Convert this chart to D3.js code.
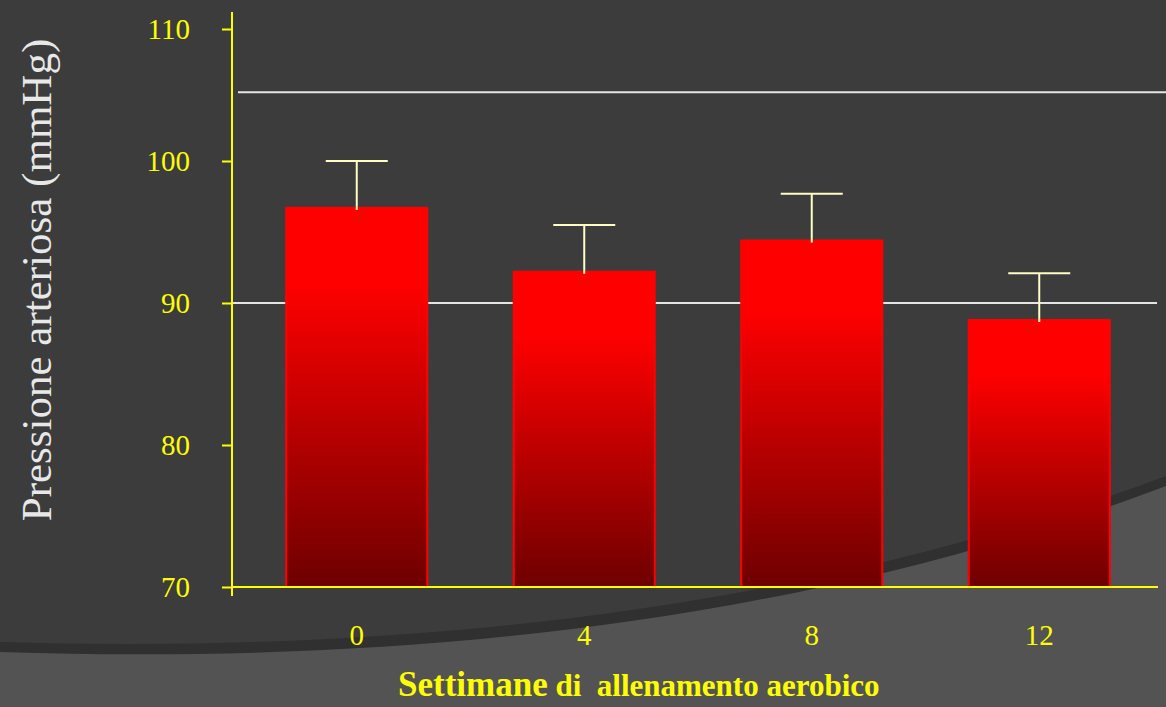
<!DOCTYPE html>
<html>
<head>
<meta charset="utf-8">
<script src="https://cdn.jsdelivr.net/npm/d3@7"></script>
<style>
  html, body { margin: 0; padding: 0; background: #3c3c3c; }
  svg { display: block; }
</style>
</head>
<body>
<div id="chart"></div>
<script>
// data
var weeks = ['0', '4', '8', '12'];
var pressure = [96.7, 92.2, 94.4, 88.8];
var pressureErr = [3.3, 3.3, 3.3, 3.3];
var yTicks = [70, 80, 90, 100, 110];
var refLines = [90, 105.2];

var W = 1166, H = 707;

var svg = d3.select('#chart').append('svg')
    .attr('width', W)
    .attr('height', H);

// background + swoosh (decoration of the slide)
svg.append('rect').attr('width', W).attr('height', H).attr('fill', '#3c3c3c');
svg.append('path')
    .attr('d', 'M0,642 C400,654 800,613 1166,476 L1166,707 L0,707 Z')
    .attr('fill', '#303030');
svg.append('path')
    .attr('d', 'M0,652 C400,665 800,625 1166,486 L1166,707 L0,707 Z')
    .attr('fill', '#535353');

var defs = svg.append('defs');
var grad = defs.append('linearGradient')
    .attr('id', 'barGrad')
    .attr('x1', 0).attr('y1', 0).attr('x2', 0).attr('y2', 1);
grad.append('stop').attr('offset', '0%').attr('stop-color', '#ff0000');
grad.append('stop').attr('offset', '20%').attr('stop-color', '#ff0000');
grad.append('stop').attr('offset', '100%').attr('stop-color', '#6e0000');

// scales (the top segment of the original axis is compressed)
var x = d3.scaleBand()
    .domain(weeks)
    .range([243, 1153])
    .paddingInner(0.38)
    .paddingOuter(0.19);

var y = d3.scaleLinear()
    .domain([70, 100, 110])
    .range([587, 161, 29]);

var axisX = 232;
var serif = '"Liberation Serif", "Times New Roman", serif';

// white reference lines
svg.selectAll('line.ref').data(refLines).enter().append('line')
    .attr('class', 'ref')
    .attr('x1', function(d, i){ return i == 0 ? axisX : axisX + 6; })
    .attr('x2', function(d, i){ return i == 0 ? 1157 : W; })
    .attr('y1', function(d){ return y(d); })
    .attr('y2', function(d){ return y(d); })
    .attr('stroke', '#e4e4e4')
    .attr('stroke-width', 2);

// bars
svg.selectAll('rect.bar').data(pressure).enter().append('rect')
    .attr('class', 'bar')
    .attr('x', function(d, i){ return x(weeks[i]); })
    .attr('y', function(d){ return y(d); })
    .attr('width', x.bandwidth())
    .attr('height', function(d){ return y(70) - y(d); })
    .attr('fill', 'url(#barGrad)')
    .attr('stroke', '#ff0000')
    .attr('stroke-width', 2);

// error bars
var err = svg.selectAll('g.err').data(pressure).enter().append('g')
    .attr('class', 'err')
    .attr('stroke', '#ffffc4')
    .attr('stroke-width', 2);
err.append('line')
    .attr('x1', function(d, i){ return x(weeks[i]) + x.bandwidth() / 2; })
    .attr('x2', function(d, i){ return x(weeks[i]) + x.bandwidth() / 2; })
    .attr('y1', function(d){ return y(d) + 2; })
    .attr('y2', function(d, i){ return y(d + pressureErr[i]); });
err.append('line')
    .attr('x1', function(d, i){ return x(weeks[i]) + x.bandwidth() / 2 - 31; })
    .attr('x2', function(d, i){ return x(weeks[i]) + x.bandwidth() / 2 + 31; })
    .attr('y1', function(d, i){ return y(d + pressureErr[i]); })
    .attr('y2', function(d, i){ return y(d + pressureErr[i]); });

// y axis
var gy = svg.append('g')
    .attr('transform', 'translate(' + axisX + ',0)')
    .call(d3.axisLeft(y).tickValues(yTicks).tickSize(10).tickPadding(32).tickSizeOuter(0));
gy.attr('font-family', serif).attr('font-size', 29);
gy.select('.domain').remove();
gy.selectAll('line').attr('stroke', '#ffff00').attr('stroke-width', 2);
gy.selectAll('text').attr('fill', '#ffff00');
gy.append('line')
    .attr('y1', y(110) - 17).attr('y2', y(70) + 9)
    .attr('stroke', '#ffff00').attr('stroke-width', 2);

// x axis
var gx = svg.append('g')
    .attr('transform', 'translate(0,' + y(70) + ')')
    .call(d3.axisBottom(x).tickSize(0).tickPadding(37));
gx.attr('font-family', serif).attr('font-size', 29);
gx.select('.domain').remove();
gx.append('line')
    .attr('x1', axisX).attr('x2', 1158)
    .attr('stroke', '#ffff00').attr('stroke-width', 2);
gx.selectAll('text').attr('fill', '#ffff00');

// axis titles
svg.append('text')
    .attr('transform', 'translate(51,280) rotate(-90)')
    .attr('text-anchor', 'middle')
    .attr('fill', '#e8e8e8')
    .style('font-family', serif)
    .style('font-size', '43px')
    .text('Pressione arteriosa (mmHg)');

var xt = svg.append('text')
    .attr('x', 398).attr('y', 696)
    .attr('fill', '#ffff00')
    .style('font-family', serif)
    .style('font-weight', 'bold')
    .style('white-space', 'pre');
xt.append('tspan').style('font-size', '35px').text('Settimane');
xt.append('tspan').style('font-size', '31px').text(' di  allenamento aerobico');
</script>
</body>
</html>
